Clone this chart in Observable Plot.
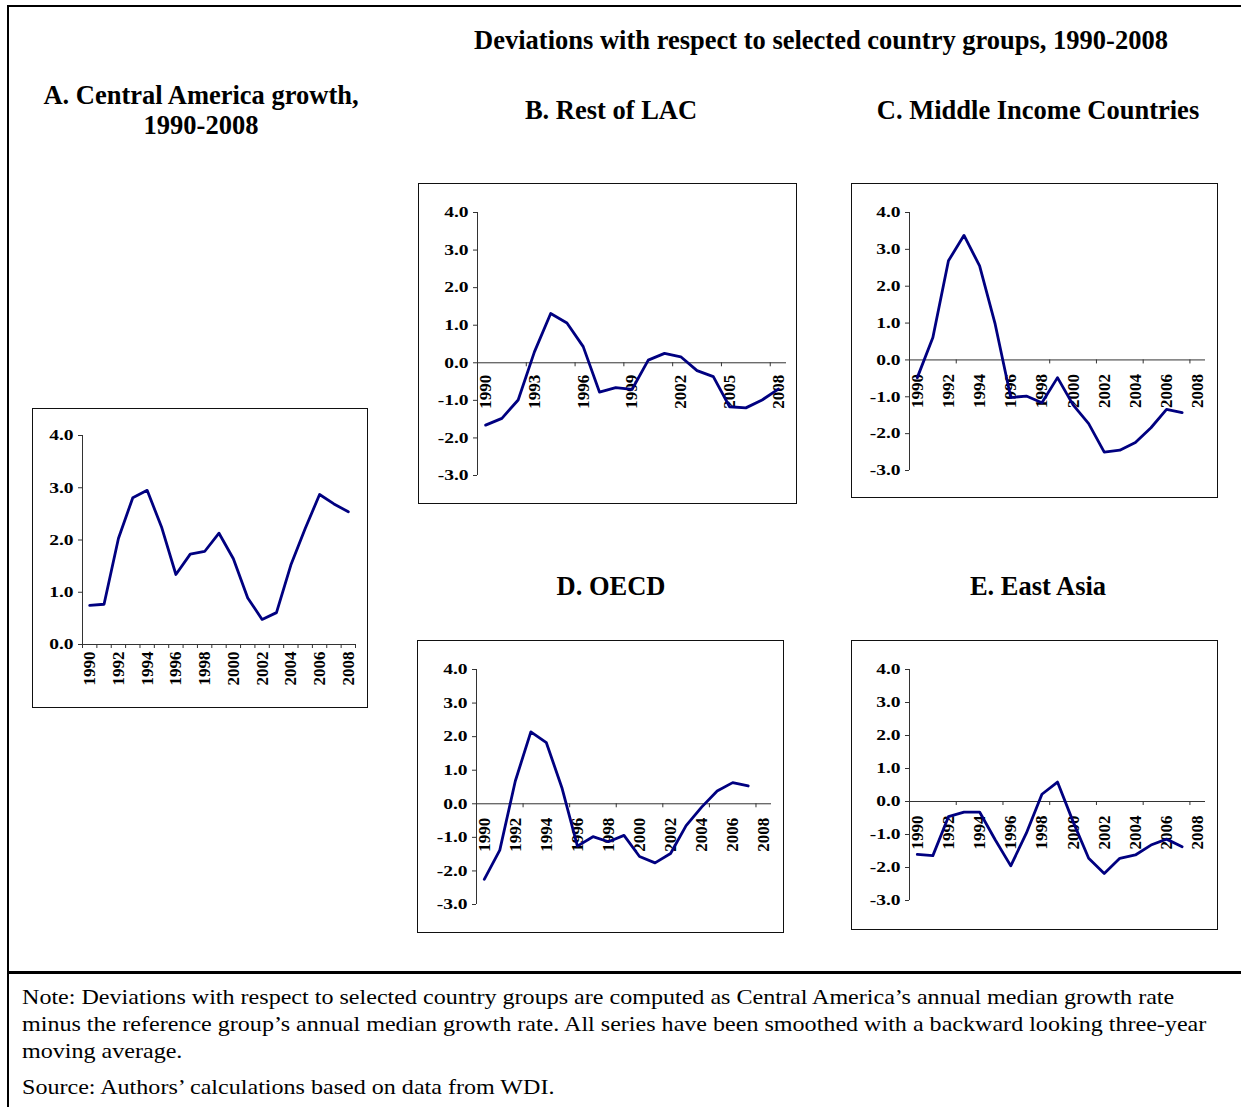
<!DOCTYPE html>
<html><head><meta charset="utf-8">
<script src="https://cdn.jsdelivr.net/npm/d3@7"></script>
<script src="https://cdn.jsdelivr.net/npm/@observablehq/plot@0.6"></script>
<style>
body{margin:0;background:#fff;}
#page{position:relative;width:1241px;height:1107px;overflow:hidden;font-family:"Liberation Serif","Times New Roman",serif;color:#000;background:#fff;}
.line{position:absolute;background:#000;}
.title{position:absolute;font-weight:bold;font-size:26.5px;line-height:30px;text-align:center;white-space:nowrap;}
.frame{position:absolute;border:1px solid #111;box-sizing:border-box;}
.plot{position:absolute;}
.note{position:absolute;left:22px;font-size:22px;line-height:27px;white-space:nowrap;transform:scaleX(1.094);transform-origin:0 50%;}
</style></head><body><div id="page"></div>
<script>
// ---- data ----
const years = [1990,1991,1992,1993,1994,1995,1996,1997,1998,1999,2000,2001,2002,2003,2004,2005,2006,2007,2008];
const centralAmerica = [0.75,0.77,2.03,2.81,2.95,2.25,1.34,1.73,1.78,2.13,1.64,0.89,0.48,0.61,1.52,2.22,2.87,2.69,2.54];
const restOfLAC = [-1.66,-1.48,-0.99,0.29,1.31,1.06,0.43,-0.78,-0.66,-0.71,0.07,0.25,0.16,-0.21,-0.37,-1.17,-1.20,-0.99,-0.70];
const middleIncome = [-0.48,0.61,2.69,3.38,2.55,0.97,-1.02,-0.98,-1.16,-0.48,-1.22,-1.73,-2.50,-2.45,-2.24,-1.84,-1.34,-1.43];
const oecd = [-2.25,-1.38,0.68,2.14,1.82,0.48,-1.26,-0.98,-1.13,-0.94,-1.57,-1.76,-1.48,-0.65,-0.10,0.38,0.63,0.53];
const eastAsia = [-1.60,-1.64,-0.46,-0.32,-0.32,-1.16,-1.95,-0.96,0.22,0.59,-0.61,-1.72,-2.18,-1.72,-1.62,-1.32,-1.14,-1.37];

const yTicksA = [0,1,2,3,4];
const yTicksDev = [-3,-2,-1,0,1,2,3,4];
const xLabelsEvery2 = [1990,1992,1994,1996,1998,2000,2002,2004,2006,2008];
const xLabelsEvery3 = [1990,1993,1996,1999,2002,2005,2008];
const xTickMarksA = [1989.5,1990.5,1991.5,1992.5,1993.5,1994.5,1995.5,1996.5,1997.5,1998.5,1999.5,2000.5,2001.5,2002.5,2003.5,2004.5,2005.5,2006.5,2007.5,2008.5];
const xTickMarks3 = [1992.5,1995.5,1998.5,2001.5,2004.5,2007.5];

const mainTitle = "Deviations with respect to selected country groups, 1990-2008";
const panelTitles = ["A. Central America growth,<br>1990-2008","B. Rest of LAC","C. Middle Income Countries","D. OECD","E. East Asia"];
const noteLines = [
  "Note: Deviations with respect to selected country groups are computed as Central America\u2019s annual median growth rate",
  "minus the reference group\u2019s annual median growth rate. All series have been smoothed with a backward looking three-year",
  "moving average."
];
const sourceLine = "Source: Authors\u2019 calculations based on data from WDI.";

// ---- layout ----
const page = document.getElementById("page");
function add(tag, cls, css, html) {
  const el = document.createElement(tag);
  if (cls) el.className = cls;
  Object.assign(el.style, css);
  if (html != null) el.innerHTML = html;
  page.appendChild(el);
  return el;
}
// outer rules
add("div","line",{left:"7px",top:"5px",width:"1240px",height:"2px"});
add("div","line",{left:"7px",top:"5px",width:"2px",height:"1110px"});
add("div","line",{left:"7px",top:"971px",width:"1240px",height:"3px"});

// titles
add("div","title",{left:"421px",width:"800px",top:"25px"},mainTitle);
add("div","title",{left:"1px",width:"400px",top:"79.5px"},panelTitles[0]);
add("div","title",{left:"411px",width:"400px",top:"94.5px"},panelTitles[1]);
add("div","title",{left:"838px",width:"400px",top:"94.5px"},panelTitles[2]);
add("div","title",{left:"411px",width:"400px",top:"570.5px"},panelTitles[3]);
add("div","title",{left:"838px",width:"400px",top:"570.5px"},panelTitles[4]);

// notes
noteLines.forEach((t,i)=>add("div","note",{top:(983+27*i)+"px"},t));
add("div","note",{top:"1073px"},sourceLine);

function panel(cfg) {
  const data = cfg.values.map((v,i)=>({year: years[i], value: v}));
  const [y0, y1] = cfg.yDomain;
  add("div","frame",{left:cfg.left+"px",top:cfg.top+"px",width:cfg.W+"px",height:cfg.H+"px"});
  const chart = Plot.plot({
    width: cfg.W, height: cfg.H,
    marginLeft: cfg.ml, marginRight: cfg.mr, marginTop: cfg.mt, marginBottom: cfg.mb,
    style: {background:"transparent", fontFamily:'"Liberation Serif","Times New Roman",serif', fontWeight:"bold", fontSize:"15px", color:"#000", overflow:"visible"},
    x: {domain:[1989.5, 2008.5], axis:null},
    y: {domain: cfg.yDomain, axis:null},
    marks: [
      Plot.ruleY([0], {x1: () => 1989.5, x2: () => 2008.5, stroke:"#333", strokeWidth:1}),
      Plot.ruleX([1989.5], {y1: () => y0, y2: () => y1, stroke:"#333", strokeWidth:1}),
      Plot.axisY({ticks: cfg.yTicks, tickFormat: d => d.toFixed(1), label: null, tickSize: 4, tickPadding: 5, stroke:"#333", fill:"#000", fontWeight:"bold", fontSize: 15}),
      Plot.ruleX(cfg.tickMarks, {x: d => d, y1: () => 0, y2: () => 0, insetBottom: -4, stroke:"#333", strokeWidth:1}),
      Plot.text(cfg.labels, {x: d => d, y: () => 0, text: d => String(d), rotate: -90, textAnchor: "end", dy: cfg.gap, fill:"#000", fontWeight:"bold", fontSize: 17}),
      Plot.line(data, {x:"year", y:"value", stroke:"#000080", strokeWidth:2.8})
    ]
  });
  // widen y tick labels horizontally, as in the reference
  chart.querySelectorAll('g[aria-label="y-axis tick label"] text').forEach(t => {
    let tr = t.getAttribute("transform");
    if (!tr) {
      const x = t.getAttribute("x") || 0, y = t.getAttribute("y") || 0;
      t.removeAttribute("x"); t.removeAttribute("y");
      tr = `translate(${x},${y})`;
    }
    t.setAttribute("transform", tr + " scale(1.3,1)");
  });
  const holder = add("div","plot",{left:cfg.left+"px",top:cfg.top+"px"});
  holder.appendChild(chart);
}

panel({values: centralAmerica, yDomain:[0,4], yTicks:yTicksA, labels:xLabelsEvery2, tickMarks:xTickMarksA,
  left:32, top:408, W:336, H:300, ml:50, mr:13, mt:27, mb:64, gap:7});
panel({values: restOfLAC, yDomain:[-3,4], yTicks:yTicksDev, labels:xLabelsEvery3, tickMarks:xTickMarks3,
  left:418, top:183, W:379, H:321, ml:59, mr:11, mt:29, mb:29, gap:12});
panel({values: middleIncome, yDomain:[-3,4], yTicks:yTicksDev, labels:xLabelsEvery2, tickMarks:xTickMarks3,
  left:851, top:183, W:367, H:315, ml:58, mr:13, mt:29, mb:28, gap:14});
panel({values: oecd, yDomain:[-3,4], yTicks:yTicksDev, labels:xLabelsEvery2, tickMarks:xTickMarks3,
  left:417, top:640, W:367, H:293, ml:59, mr:13, mt:29, mb:29, gap:14});
panel({values: eastAsia, yDomain:[-3,4], yTicks:yTicksDev, labels:xLabelsEvery2, tickMarks:xTickMarks3,
  left:851, top:640, W:367, H:290, ml:58, mr:13, mt:29, mb:30, gap:14});
</script></body></html>
